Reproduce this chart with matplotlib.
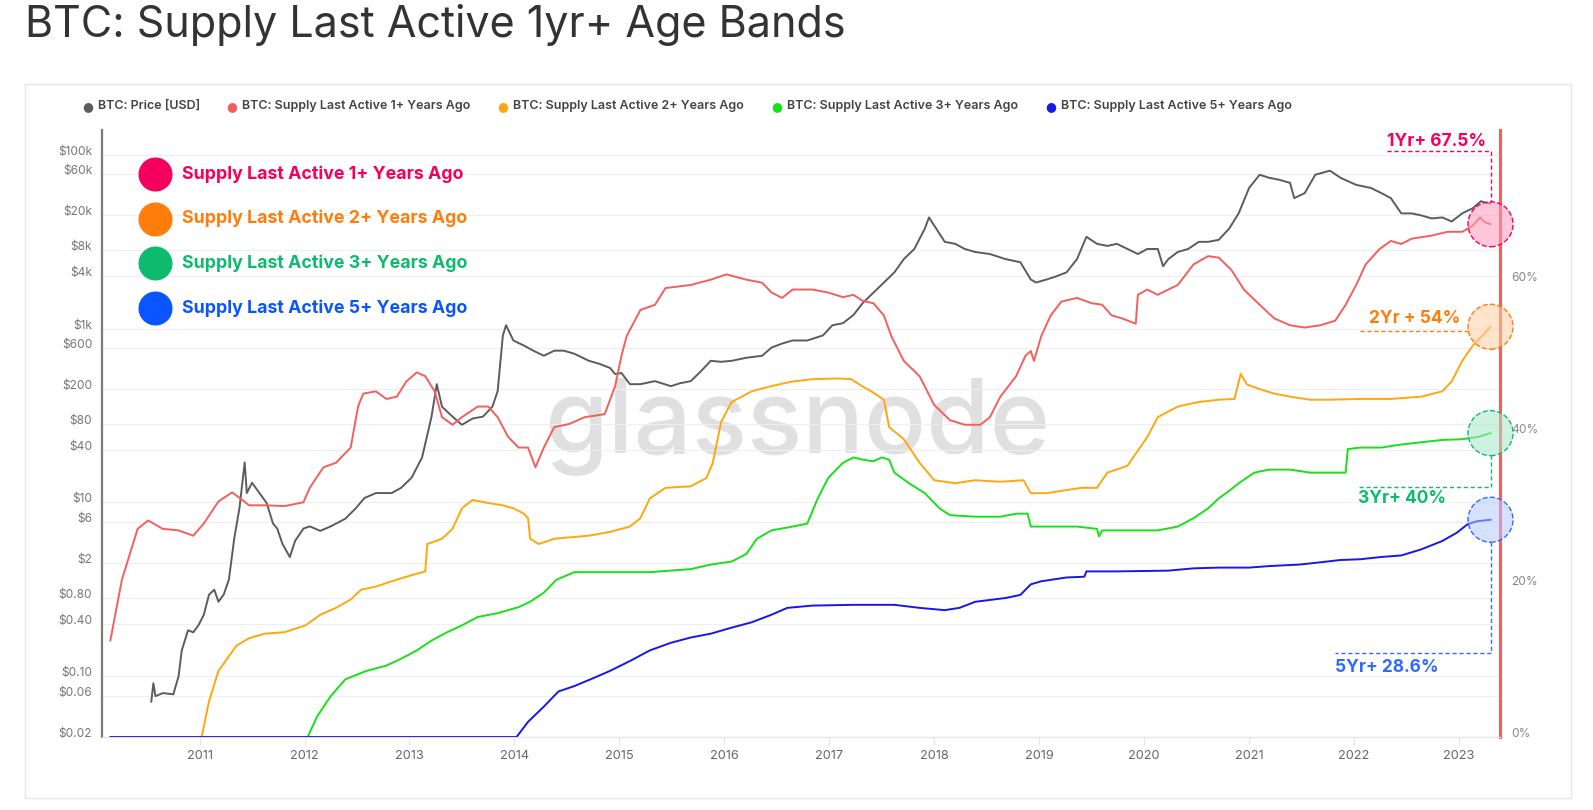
import numpy as np
import matplotlib
matplotlib.use("Agg")
import matplotlib.pyplot as plt
from matplotlib.patches import Rectangle

plt.rcParams['font.family'] = ['Inter', 'DejaVu Sans']

# ---- data (decimal year, value) ----
price_year = [2010.54, 2010.56, 2010.58, 2010.65, 2010.75, 2010.80, 2010.83, 2010.86, 2010.89, 2010.94,
              2010.99, 2011.04, 2011.09, 2011.14, 2011.18, 2011.23, 2011.28, 2011.33, 2011.38, 2011.43,
              2011.45, 2011.50, 2011.57, 2011.64, 2011.70, 2011.74, 2011.79, 2011.86, 2011.91, 2011.99,
              2012.05, 2012.15, 2012.25, 2012.39, 2012.49, 2012.57, 2012.68, 2012.83, 2012.92, 2013.02,
              2013.12, 2013.21, 2013.26, 2013.31, 2013.41, 2013.50, 2013.60, 2013.70, 2013.79, 2013.84,
              2013.89, 2013.92, 2013.99, 2014.09, 2014.18, 2014.28, 2014.38, 2014.47, 2014.57, 2014.71,
              2014.81, 2014.91, 2014.96, 2015.02, 2015.10, 2015.20, 2015.34, 2015.49, 2015.58, 2015.68,
              2015.78, 2015.87, 2015.97, 2016.07, 2016.21, 2016.36, 2016.45, 2016.55, 2016.65, 2016.79,
              2016.94, 2017.03, 2017.13, 2017.23, 2017.32, 2017.42, 2017.52, 2017.62, 2017.71, 2017.81,
              2017.91, 2017.95, 2018.00, 2018.10, 2018.20, 2018.29, 2018.39, 2018.53, 2018.68, 2018.82,
              2018.92, 2018.97, 2019.07, 2019.16, 2019.26, 2019.36, 2019.45, 2019.55, 2019.65, 2019.74,
              2019.84, 2019.94, 2020.03, 2020.13, 2020.18, 2020.23, 2020.32, 2020.42, 2020.52, 2020.61,
              2020.71, 2020.81, 2020.90, 2021.00, 2021.10, 2021.19, 2021.29, 2021.39, 2021.43, 2021.53,
              2021.63, 2021.77, 2021.87, 2022.02, 2022.16, 2022.26, 2022.35, 2022.45, 2022.55, 2022.64,
              2022.74, 2022.84, 2022.93, 2023.03, 2023.13, 2023.21, 2023.26, 2023.30]
price_usd = [0.051, 0.083, 0.059, 0.064, 0.062, 0.10, 0.197, 0.258, 0.338, 0.32,
             0.387, 0.507, 0.867, 0.99, 0.72, 0.87, 1.30, 3.82, 8.57, 28.8,
             12.8, 16.8, 12.8, 9.8, 5.7, 5.0, 3.33, 2.35, 3.6, 5.0,
             5.3, 4.7, 5.3, 6.5, 8.6, 11.2, 12.8, 12.8, 14.7, 19.2,
             32.9, 96.6, 229, 126, 97, 78, 92, 97, 126, 190,
             834, 1091, 728, 637, 556, 486, 556, 556, 513, 425,
             392, 352, 299, 308, 229, 229, 248, 217, 235, 248,
             325, 425, 414, 425, 461, 486, 604, 671, 728, 728,
             834, 1091, 1151, 1429, 1972, 2582, 3380, 4425, 6281, 8222,
             14090, 18950, 15280, 9930, 9420, 8222, 7590, 7190, 6281, 5790,
             3660, 3380, 3660, 3970, 4425, 6281, 11350, 9420, 8910, 9420,
             8222, 7190, 8222, 8222, 5200, 6281, 7590, 8222, 9930, 9930,
             10470, 14090, 21090, 41400, 58700, 54200, 51300, 47300, 31600, 36100,
             58700, 65400, 54200, 44900, 41400, 36100, 31600, 21090, 21090, 20000,
             18450, 18950, 17020, 21090, 24150, 29170, 27600, 27600]

y1_year = [2010.15, 2010.26, 2010.41, 2010.51, 2010.65, 2010.80, 2010.94, 2011.04, 2011.18, 2011.31,
           2011.39, 2011.47, 2011.62, 2011.81, 2011.99, 2012.05, 2012.18, 2012.30, 2012.44, 2012.51,
           2012.56, 2012.68, 2012.78, 2012.88, 2012.97, 2013.07, 2013.15, 2013.24, 2013.31, 2013.41,
           2013.50, 2013.65, 2013.75, 2013.84, 2013.94, 2014.04, 2014.13, 2014.20, 2014.28, 2014.38,
           2014.52, 2014.67, 2014.86, 2014.96, 2015.02, 2015.07, 2015.20, 2015.34, 2015.44, 2015.68,
           2015.87, 2016.02, 2016.21, 2016.36, 2016.45, 2016.55, 2016.65, 2016.84, 2016.99, 2017.13,
           2017.23, 2017.32, 2017.42, 2017.52, 2017.59, 2017.71, 2017.86, 2018.00, 2018.15, 2018.29,
           2018.44, 2018.53, 2018.63, 2018.78, 2018.87, 2018.92, 2018.95, 2019.02, 2019.11, 2019.21,
           2019.36, 2019.50, 2019.60, 2019.69, 2019.79, 2019.92, 2019.94, 2020.03, 2020.13, 2020.23,
           2020.32, 2020.47, 2020.61, 2020.71, 2020.83, 2020.95, 2021.10, 2021.24, 2021.39, 2021.53,
           2021.68, 2021.82, 2021.92, 2022.02, 2022.11, 2022.24, 2022.35, 2022.45, 2022.55, 2022.74,
           2022.89, 2023.03, 2023.13, 2023.20, 2023.24, 2023.30]
y1_pct = [12.7, 20.7, 27.4, 28.5, 27.4, 27.2, 26.5, 28.1, 31.0, 32.2,
          31.4, 30.5, 30.5, 30.4, 30.9, 32.8, 35.5, 36.1, 38.1, 43.5,
          45.2, 45.5, 44.5, 44.8, 46.8, 48.0, 47.5, 45.5, 42.1, 41.1,
          42.1, 43.5, 43.5, 42.1, 39.5, 38.1, 38.1, 35.5, 38.1, 40.8,
          41.2, 42.1, 42.5, 46.2, 50.2, 52.8, 56.2, 56.9, 59.1, 59.5,
          60.2, 60.9, 60.2, 59.8, 58.5, 57.8, 58.9, 58.9, 58.5, 57.9,
          58.2, 57.4, 57.1, 55.5, 52.8, 49.5, 47.5, 43.7, 41.7, 41.1,
          41.1, 42.1, 44.8, 47.5, 50.2, 50.8, 49.5, 52.8, 55.5, 57.3,
          57.8, 57.1, 56.9, 55.5, 55.1, 54.4, 58.2, 58.9, 58.2, 58.9,
          59.5, 62.2, 63.3, 63.1, 61.5, 58.9, 56.9, 55.1, 54.2, 53.9,
          54.2, 54.8, 56.9, 59.5, 62.2, 64.2, 65.3, 64.9, 65.6, 66.0,
          66.5, 66.5, 67.3, 68.4, 67.8, 67.5]

y2_year = [2011.02, 2011.09, 2011.18, 2011.35, 2011.47, 2011.62, 2011.81, 2012.01, 2012.15, 2012.30,
           2012.44, 2012.54, 2012.68, 2012.83, 2012.97, 2013.15, 2013.17, 2013.31, 2013.41, 2013.50,
           2013.60, 2013.75, 2013.89, 2013.99, 2014.09, 2014.13, 2014.15, 2014.23, 2014.38, 2014.71,
           2014.91, 2015.10, 2015.20, 2015.29, 2015.44, 2015.68, 2015.83, 2015.89, 2015.97, 2016.07,
           2016.26, 2016.45, 2016.65, 2016.84, 2017.08, 2017.21, 2017.31, 2017.40, 2017.52, 2017.57,
           2017.71, 2017.86, 2018.00, 2018.20, 2018.39, 2018.63, 2018.85, 2018.92, 2019.07, 2019.26,
           2019.40, 2019.55, 2019.65, 2019.84, 2020.03, 2020.13, 2020.32, 2020.52, 2020.71, 2020.86,
           2020.92, 2020.98, 2021.10, 2021.24, 2021.39, 2021.58, 2021.77, 2022.06, 2022.35, 2022.64,
           2022.84, 2022.93, 2023.03, 2023.13, 2023.22, 2023.30]
y2_pct = [0.0, 4.7, 8.7, 12.0, 13.0, 13.6, 13.8, 14.7, 16.1, 17.0,
          18.1, 19.4, 19.8, 20.5, 21.1, 21.8, 25.4, 26.1, 27.4, 30.1,
          31.2, 30.8, 30.5, 30.1, 29.4, 28.8, 26.1, 25.4, 26.1, 26.5,
          27.0, 27.7, 28.8, 31.4, 32.8, 33.0, 34.1, 36.1, 41.5, 44.1,
          45.5, 46.2, 46.8, 47.1, 47.2, 47.1, 46.2, 45.5, 44.4, 40.8,
          39.2, 36.1, 33.8, 33.4, 33.8, 33.6, 33.8, 32.1, 32.1, 32.5,
          32.8, 32.8, 34.8, 35.7, 39.5, 42.1, 43.5, 44.1, 44.4, 44.5,
          47.8, 46.4, 45.8, 45.2, 44.8, 44.4, 44.4, 44.5, 44.5, 44.8,
          45.5, 46.8, 49.5, 51.5, 52.8, 54.0]

y3_year = [2012.03, 2012.12, 2012.25, 2012.39, 2012.59, 2012.78, 2012.92, 2013.07, 2013.21, 2013.36,
           2013.50, 2013.65, 2013.84, 2014.04, 2014.15, 2014.28, 2014.40, 2014.57, 2014.91, 2015.29,
           2015.68, 2015.87, 2016.07, 2016.21, 2016.31, 2016.45, 2016.65, 2016.79, 2016.89, 2016.99,
           2017.13, 2017.23, 2017.32, 2017.42, 2017.50, 2017.57, 2017.62, 2017.76, 2017.91, 2018.05,
           2018.15, 2018.39, 2018.63, 2018.78, 2018.89, 2018.92, 2019.07, 2019.36, 2019.55, 2019.57,
           2019.60, 2019.84, 2020.13, 2020.32, 2020.47, 2020.61, 2020.71, 2020.81, 2020.90, 2021.05,
           2021.19, 2021.39, 2021.58, 2021.77, 2021.92, 2021.94, 2022.06, 2022.26, 2022.45, 2022.64,
           2022.84, 2023.03, 2023.18, 2023.30]
y3_pct = [0.0, 2.7, 5.4, 7.6, 8.7, 9.4, 10.3, 11.4, 12.7, 13.8,
          14.7, 15.8, 16.3, 17.1, 17.8, 19.0, 20.7, 21.7, 21.7, 21.7,
          22.1, 22.7, 23.1, 24.1, 26.1, 27.2, 27.7, 28.1, 31.4, 34.1,
          36.1, 36.8, 36.5, 36.3, 36.8, 36.5, 34.8, 33.4, 32.1, 30.1,
          29.2, 29.0, 29.0, 29.4, 29.4, 27.7, 27.7, 27.7, 27.4, 26.4,
          27.2, 27.2, 27.2, 27.7, 28.8, 30.1, 31.4, 32.4, 33.4, 34.8,
          35.2, 35.2, 34.8, 34.8, 34.8, 37.9, 38.1, 38.1, 38.5, 38.8,
          39.1, 39.2, 39.5, 40.0]

y5_year = [2010.15, 2014.02, 2014.13, 2014.28, 2014.42, 2014.57, 2014.76, 2014.91, 2015.10, 2015.29,
           2015.49, 2015.68, 2015.87, 2016.07, 2016.26, 2016.45, 2016.60, 2016.84, 2017.23, 2017.62,
           2017.86, 2018.10, 2018.24, 2018.39, 2018.68, 2018.82, 2018.92, 2019.02, 2019.26, 2019.43,
           2019.45, 2019.74, 2020.23, 2020.47, 2020.71, 2021.00, 2021.19, 2021.48, 2021.68, 2021.87,
           2022.06, 2022.26, 2022.45, 2022.64, 2022.84, 2022.98, 2023.08, 2023.17, 2023.30]
y5_pct = [0.0, 0.0, 2.0, 4.0, 6.0, 6.7, 7.8, 8.7, 10.0, 11.4,
          12.4, 13.1, 13.6, 14.4, 15.1, 16.1, 17.0, 17.3, 17.4, 17.4,
          17.0, 16.7, 17.0, 17.8, 18.3, 18.7, 20.1, 20.5, 21.0, 21.1,
          21.8, 21.8, 21.9, 22.2, 22.3, 22.3, 22.5, 22.7, 23.0, 23.3,
          23.4, 23.7, 23.9, 24.7, 25.8, 26.9, 28.0, 28.4, 28.6]

year_ticks = list(range(2011, 2024))
price_ticks = [0.02, 0.06, 0.10, 0.40, 0.80, 2, 6, 10, 40, 80, 200, 600, 1e3, 4e3, 8e3, 2e4, 6e4, 1e5]
price_labels = ["$0.02", "$0.06", "$0.10", "$0.40", "$0.80", "$2", "$6", "$10", "$40", "$80",
                "$200", "$600", "$1k", "$4k", "$8k", "$20k", "$60k", "$100k"]
pct_ticks = [0, 20, 40, 60]

c_price = '#5c5c5c'
c_1y = '#f2605e'
c_2y = '#ffa70f'
c_3y = '#19e019'
c_5y = '#1717e6'

fig = plt.figure(figsize=(15.93, 8.10), dpi=100)
fig.patch.set_facecolor('white')

fig.text(0.0157, 0.969, "BTC: Supply Last Active 1yr+ Age Bands", fontsize=31,
         color='#333333', va='center', ha='left')
fig.patches.append(Rectangle((0.0157, 0.0148), 0.9705, 0.8815, transform=fig.transFigure,
                             fill=False, edgecolor='#e6e6e6', lw=1))

# header legend
hdr = [("BTC: Price [USD]", c_price, 88), ("BTC: Supply Last Active 1+ Years Ago", c_1y, 232),
       ("BTC: Supply Last Active 2+ Years Ago", c_2y, 503), ("BTC: Supply Last Active 3+ Years Ago", c_3y, 777),
       ("BTC: Supply Last Active 5+ Years Ago", c_5y, 1051)]
for name, col, px in hdr:
    fig.text(px / 1593, 0.869, "\u25cf", color=col, fontsize=9, va='center', ha='center',
             family=['DejaVu Sans'])
    fig.text((px + 10) / 1593, 0.869, name, color='#444444', fontsize=9.0, va='center',
             ha='left', fontweight='semibold')

ax = fig.add_axes([0.064, 0.0901, 0.8776, 0.7494])
ax2 = ax.twinx()

ax.set_yscale('log')
ax.set_xlim(2010.07, 2023.39)
ax.set_ylim(0.02, 1.92e5)
ax2.set_ylim(0, 79.9)

# watermark
ax.text(0.497, 0.51, "glassnode", transform=ax.transAxes, fontsize=74, color='#e0e0e0',
        ha='center', va='center', fontweight='medium', zorder=0)

ax.plot(price_year, price_usd, color=c_price, lw=1.4, zorder=3)
ax2.plot(y1_year, y1_pct, color=c_1y, lw=1.4)
ax2.plot(y2_year, y2_pct, color=c_2y, lw=1.4)
ax2.plot(y3_year, y3_pct, color=c_3y, lw=1.4)
ax2.plot(y5_year, y5_pct, color=c_5y, lw=1.4)

ax.set_yticks(price_ticks)
ax.set_yticklabels(price_labels)
ax.yaxis.set_minor_locator(matplotlib.ticker.NullLocator())
ax.tick_params(axis='y', length=0, pad=7, labelsize=8.6, labelcolor='#777777')
for lab in ax.get_yticklabels():
    lab.set_verticalalignment('baseline')
ax.grid(axis='y', color='#efefef', lw=0.8)
ax.set_axisbelow(True)

ax2.set_yticks(pct_ticks)
ax2.set_yticklabels([f"{p}%" for p in pct_ticks])
ax2.tick_params(axis='y', length=0, pad=8, labelsize=8.6, labelcolor='#888888')
for lab in ax2.get_yticklabels():
    lab.set_verticalalignment('baseline')

ax.set_xticks(year_ticks)
ax.set_xticklabels([str(y) for y in year_ticks])
ax.tick_params(axis='x', length=6, color='#e6e6e6', pad=3, labelsize=9.2, labelcolor='#666666')

for a in (ax, ax2):
    a.spines['top'].set_visible(False)
    a.spines['right'].set_visible(False)
    a.spines['bottom'].set_color('#e3e3e3')
    a.spines['left'].set_visible(False)
ax.spines['left'].set_visible(True)
ax.spines['left'].set_color('#7a7a7a')
ax.spines['left'].set_linewidth(1.6)
ax2.axvline(2023.39, color='#f0605e', lw=2.2, clip_on=False)

# in-chart legend
leg = [("Supply Last Active 1+ Years Ago", '#f5005f'), ("Supply Last Active 2+ Years Ago", '#ff7d0a'),
       ("Supply Last Active 3+ Years Ago", '#0dbb6e'), ("Supply Last Active 5+ Years Ago", '#0a55ff')]
for i, (name, col) in enumerate(leg):
    yy = 1 - (174 + 44.7 * i) / 810
    fig.lines.append(plt.Line2D([155 / 1593], [yy], transform=fig.transFigure, marker='o',
                                markersize=23.5, color=col, lw=0))
    fig.text(182 / 1593, yy, name, color=col, fontsize=12.8, fontweight='bold', va='center', ha='left')

# end annotations
end_x = y1_year[-1]
ends = [(y1_pct[-1], '#f5005f', '#ff9ab8'), (y2_pct[-1], '#ff7d0a', '#ffcfa3'),
        (y3_pct[-1], '#0dbb6e', '#a8e8c8'), (y5_pct[-1], '#2f6bff', '#b3c9ff')]
for val, col, fc in ends:
    ax2.scatter([end_x], [val], s=1050, facecolor=fc, alpha=0.55, edgecolor='none', zorder=4, clip_on=False)
    ax2.scatter([end_x], [val], s=1050, facecolor='none', edgecolor=col, linestyle='--', lw=1,
                zorder=5, clip_on=False)

r = 2.9
dash = dict(ls=(0, (3, 2)), lw=1)
ax2.plot([2022.31, end_x, end_x], [77.1, 77.1, y1_pct[-1] + r], color='#f5005f', **dash)
ax2.text(2022.31, 78.4, "1Yr+ 67.5%", color='#f5005f', fontsize=12.5, fontweight='bold', va='center')
ax2.plot([2022.06, end_x - 0.21], [53.5, 53.5], color='#ff7d0a', **dash)
ax2.text(2022.14, 55.1, "2Yr + 54%", color='#ff7d0a', fontsize=12.5, fontweight='bold', va='center')
ax2.plot([end_x, end_x, 2022.04], [y3_pct[-1] - r, 32.9, 32.9], color='#0dbb6e', **dash)
ax2.text(2022.04, 31.4, "3Yr+ 40%", color='#0dbb6e', fontsize=12.5, fontweight='bold', va='center')
ax2.plot([end_x, end_x, 2021.82], [y5_pct[-1] - r, 11.0, 11.0], color='#2f6bff', **dash)
ax2.text(2021.82, 9.2, "5Yr+ 28.6%", color='#2f6bff', fontsize=12.5, fontweight='bold', va='center')

fig.savefig("out.png", dpi=100)
